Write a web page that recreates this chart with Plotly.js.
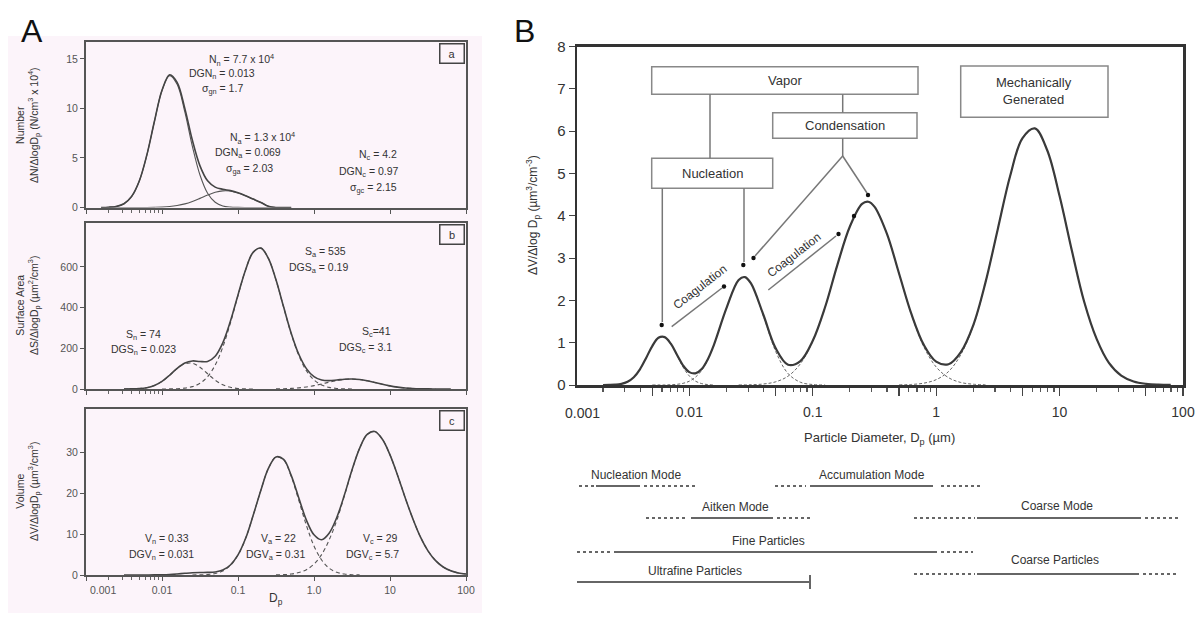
<!DOCTYPE html>
<html><head><meta charset="utf-8">
<script src="https://cdn.plot.ly/plotly-3.0.1.min.js"></script>
<style>html,body{margin:0;padding:0;background:#fff}#chart{width:1198px;height:617px}</style>
</head><body><div id="chart"></div>
<script>
// ---------- Panel A (a): number distribution ----------
const aD      = [0.00158,0.00200,0.00251,0.00316,0.00398,0.00501,0.00631,0.00794,0.0100,0.0126,0.0158,0.0200,0.0251,0.0316,0.0398,0.0501,0.0631,0.0794,0.100,0.126,0.158,0.200,0.251,0.316,0.398,0.501];
const aTotal  = [0.005,0.026,0.11,0.38,1.11,2.65,5.28,8.68,11.84,13.40,12.63,9.98,6.78,4.20,2.69,2.06,1.84,1.70,1.48,1.18,0.85,0.50,0.12,0,0,0];
const aNuc    = [0.005,0.026,0.11,0.38,1.11,2.65,5.27,8.66,11.80,13.31,12.43,9.62,6.17,3.28,1.44,0.53,0.16,0.04,0.008,0,0,0,0,0,0,0];
const aAit    = [0,0,0,0.0001,0.0005,0.002,0.006,0.016,0.04,0.094,0.195,0.363,0.61,0.92,1.25,1.53,1.68,1.66,1.47,1.18,0.85,0.50,0.12,0,0,0];

// ---------- Panel A (b): surface area distribution ----------
const bD      = [0.00316,0.00398,0.00501,0.00631,0.00794,0.0100,0.0126,0.0158,0.0200,0.0251,0.0316,0.0398,0.0501,0.0631,0.0794,0.100,0.126,0.158,0.200,0.251,0.316,0.398,0.501,0.631,0.794,1.00,1.26,1.58,2.00,2.51,3.16,3.98,5.01,6.31,7.94,10.0,12.6,15.8,20.0,25.1,31.6,39.8,50.1,63.1];
const bTotal  = [0.1,0.5,2.1,6.5,17.2,37.4,67.6,101.5,127.9,137.9,135.0,135.7,161.4,227,333,462.5,586.6,671.6,692.4,642.3,536.6,403.9,274.6,170.6,100.3,60.8,44.1,41.2,44.3,48.1,49.3,46.4,40.2,31.8,23.0,15.2,9.2,5.0,2.5,1.2,0.5,0.2,0.1,0];
const bNucD   = [0.00316,0.00398,0.00501,0.00631,0.00794,0.0100,0.0126,0.0158,0.0200,0.0251,0.0316,0.0398,0.0501,0.0631,0.0794,0.100,0.126,0.158];
const bNuc    = [0.1,0.5,2.1,6.5,17.2,37.3,67.1,100,123.5,126.3,107,75.1,43.6,21.0,8.4,2.8,0.76,0.15];
const bAccD   = [0.0100,0.0126,0.0158,0.0200,0.0251,0.0316,0.0398,0.0501,0.0631,0.0794,0.100,0.126,0.158,0.200,0.251,0.316,0.398,0.501,0.631,0.794,1.00,1.26,1.58,2.00,2.51,3.16];
const bAcc    = [0.1,0.45,1.5,4.4,11.6,28,60.6,117.8,206,324.6,459.7,585.8,671.4,692.4,642.3,536,402.5,271.7,165,90.2,44.3,19.6,7.8,2.8,0.9,0.25];
const bCoaD   = [0.316,0.398,0.501,0.631,0.794,1.00,1.26,1.58,2.00,2.51,3.16,3.98,5.01,6.31,7.94,10.0,12.6,15.8,20.0,25.1,31.6,39.8];
const bCoa    = [0.58,1.35,2.9,5.6,10.1,16.5,24.5,33.4,41.5,47.2,49,46.4,40.2,31.8,23,15.2,9.2,5.0,2.5,1.2,0.5,0.2];

// ---------- Panel A (c): volume distribution ----------
const cD      = [0.00316,0.00398,0.00501,0.00631,0.00794,0.0100,0.0126,0.0158,0.0200,0.0251,0.0316,0.0398,0.0501,0.0631,0.0794,0.100,0.126,0.158,0.200,0.251,0.316,0.398,0.501,0.631,0.794,1.00,1.26,1.58,2.00,2.51,3.16,3.98,5.01,6.31,7.94,10.0,12.6,15.8,20.0,25.1,31.6,39.8,50.1,63.1,79.4,100];
const cTotal  = [0,0,0,0.01,0.02,0.06,0.14,0.26,0.41,0.54,0.60,0.63,0.74,1.20,2.43,4.90,8.95,14.5,20.7,26.0,28.8,28.2,24.3,18.8,13.4,9.8,8.6,10.2,14.1,19.5,25.6,30.9,34.3,35.0,33.1,29.3,24.3,18.9,13.7,9.3,5.9,3.5,1.96,1.02,0.5,0.23];
const cAccD   = [0.0251,0.0316,0.0398,0.0501,0.0631,0.0794,0.100,0.126,0.158,0.200,0.251,0.316,0.398,0.501,0.631,0.794,1.00,1.26,1.58,2.00,2.51,3.16,3.98];
const cAcc    = [0.009,0.034,0.117,0.36,0.97,2.31,4.85,8.93,14.5,20.7,26.0,28.8,28.1,24.1,18.2,12.1,7.1,3.66,1.66,0.66,0.23,0.07,0.02];
const cCoaD   = [0.316,0.398,0.501,0.631,0.794,1.00,1.26,1.58,2.00,2.51,3.16,3.98,5.01,6.31,7.94,10.0,12.6,15.8,20.0,25.1,31.6,39.8,50.1,63.1,79.4,100];
const cCoa    = [0.03,0.09,0.24,0.59,1.30,2.66,4.98,8.52,13.4,19.3,25.5,30.9,34.3,35.0,33.1,29.3,24.3,18.9,13.7,9.3,5.9,3.5,1.96,1.02,0.5,0.23];

// ---------- Panel B: idealized volume distribution ----------
const BD      = [0.00200,0.00224,0.00251,0.00282,0.00316,0.00355,0.00398,0.00447,0.00501,0.00562,0.00631,0.00708,0.00794,0.00891,0.0100,0.0112,0.0126,0.0141,0.0158,0.0200,0.0251,0.0282,0.0316,0.0398,0.0501,0.0631,0.0794,0.100,0.126,0.158,0.200,0.251,0.282,0.316,0.398,0.501,0.631,0.794,1.00,1.26,1.58,2.00,2.51,3.16,3.98,5.01,6.31,7.94,10.0,12.6,15.8,20.0,25.1,31.6,39.8,50.1,63.1,79.4];
const BTotal  = [0.0004,0.0019,0.0076,0.026,0.076,0.183,0.37,0.64,0.92,1.115,1.132,0.976,0.716,0.46,0.304,0.276,0.378,0.605,0.944,1.817,2.482,2.551,2.402,1.66,0.867,0.48,0.567,1.045,1.843,2.828,3.745,4.279,4.33,4.216,3.583,2.63,1.673,0.949,0.552,0.491,0.772,1.417,2.425,3.689,4.945,5.837,6.065,5.547,4.465,3.165,1.974,1.084,0.524,0.223,0.084,0.028,0.008,0.002];
const B1D     = [0.00200,0.00224,0.00251,0.00282,0.00316,0.00355,0.00398,0.00447,0.00501,0.00562,0.00631,0.00708,0.00794,0.00891,0.0100,0.0112,0.0126,0.0141,0.0158];
const B1      = [0.0004,0.0019,0.0076,0.026,0.076,0.183,0.37,0.64,0.92,1.115,1.13,0.97,0.70,0.42,0.214,0.092,0.033,0.0099,0.0025];
const B2D     = [0.00501,0.00631,0.00708,0.00794,0.00891,0.0100,0.0112,0.0126,0.0141,0.0158,0.0200,0.0251,0.0282,0.0316,0.0398,0.0501,0.0631,0.0794,0.100,0.126];
const B2      = [0.0002,0.0021,0.0062,0.0164,0.040,0.0895,0.184,0.345,0.595,0.941,1.817,2.480,2.548,2.396,1.637,0.792,0.271,0.0656,0.0112,0.0014];
const B3D     = [0.0251,0.0316,0.0398,0.0501,0.0631,0.0794,0.100,0.126,0.158,0.200,0.251,0.282,0.316,0.398,0.501,0.631,0.794,1.00,1.26,1.58,2.00,2.51];
const B3      = [0.0015,0.0063,0.0234,0.0754,0.209,0.501,1.034,1.842,2.828,3.745,4.279,4.33,4.216,3.583,2.626,1.660,0.905,0.426,0.173,0.0604,0.0183,0.0047];
const B4D     = [0.501,0.631,0.794,1.00,1.26,1.58,2.00,2.51,3.16,3.98,5.01,6.31,7.94,10.0,12.6,15.8,20.0,25.1,31.6,39.8,50.1,63.1,79.4];
const B4      = [0.0036,0.0133,0.0435,0.126,0.318,0.712,1.399,2.42,3.688,4.945,5.837,6.065,5.547,4.465,3.165,1.974,1.084,0.524,0.223,0.0835,0.0275,0.008,0.002];

// tick labels
const decadeVals = [0.001,0.01,0.1,1,10,100];
const decadeTextA = ['','0.01','0.1','1.0','10','100'];   // "0.001" drawn offset, as in the reference
const minorA = [0.002,0.003,0.004,0.005,0.006,0.007,0.008,0.009];
const tickValsB = [0.005,0.01,0.05,0.1,0.5,1,5,10,50,100];
const tickTextB = ['','0.01','','0.1','','1','','10','','100'];
const minorB = [0.002,0.003,0.004,0.006,0.007,0.008,0.009,0.02,0.03,0.04,0.06,0.07,0.08,0.09,0.2,0.3,0.4,0.6,0.7,0.8,0.9,2,3,4,6,7,8,9,20,30,40,60,70,80,90];

// ---------- layout helpers ----------
const W = 1198, H = 617;
const fx = v => v / W, fy = v => 1 - v / H;
const FONT = 'Liberation Sans, Arial, sans-serif';
const lineA = {color:'#444', width:1.6, shape:'spline'};
const thinA = {color:'#555', width:1.1, shape:'spline'};
const dashA = {color:'#555', width:1.1, dash:'4px,3px', shape:'spline'};

function tr(x, y, xa, ya, line){ return {x:x, y:y, xaxis:xa, yaxis:ya, type:'scatter', mode:'lines', line:line, hoverinfo:'skip', showlegend:false}; }

const data = [
  tr(aD, aNuc, 'x', 'y', thinA),
  tr(aD, aAit, 'x', 'y', thinA),
  tr(aD, aTotal, 'x', 'y', lineA),
  tr(bNucD, bNuc, 'x2', 'y2', dashA),
  tr(bAccD, bAcc, 'x2', 'y2', dashA),
  tr(bCoaD, bCoa, 'x2', 'y2', dashA),
  tr(bD, bTotal, 'x2', 'y2', lineA),
  tr(cAccD, cAcc, 'x3', 'y3', dashA),
  tr(cCoaD, cCoa, 'x3', 'y3', dashA),
  tr(cD, cTotal, 'x3', 'y3', lineA),
  tr(B1D, B1, 'x4', 'y4', {color:'#666', width:1, dash:'3px,2px', shape:'spline'}),
  tr(B2D, B2, 'x4', 'y4', {color:'#666', width:1, dash:'3px,2px', shape:'spline'}),
  tr(B3D, B3, 'x4', 'y4', {color:'#666', width:1, dash:'3px,2px', shape:'spline'}),
  tr(B4D, B4, 'x4', 'y4', {color:'#666', width:1, dash:'3px,2px', shape:'spline'}),
  tr(BD, BTotal, 'x4', 'y4', {color:'#3a3a3a', width:2.2, shape:'spline'})
];

function xA(anchor, top, bot, labels){
  return {type:'log', range:[-3,2], anchor:anchor, domain:[fx(86), fx(466)],
    showline:true, mirror:true, linecolor:'#555', linewidth:2, showgrid:false, zeroline:false,
    ticks:'outside', ticklen:4, tickcolor:'#555', tickwidth:1,
    tickvals:decadeVals, ticktext:decadeTextA, showticklabels:labels,
    tickfont:{family:FONT, size:10.5, color:'#555'},
    minor:{tickvals:minorA, ticks:'outside', ticklen:3, tickcolor:'#666'}};
}
function yA(anchor, top, bot, range, vals){
  return {anchor:anchor, domain:[fy(bot), fy(top)], range:range, tickvals:vals,
    showline:true, mirror:true, linecolor:'#555', linewidth:2, showgrid:false, zeroline:false,
    ticks:'outside', ticklen:4, tickcolor:'#555', tickfont:{family:FONT, size:10.5, color:'#555'}};
}

function T(x, y, text, size, extra){
  return Object.assign({xref:'paper', yref:'paper', x:fx(x), y:fy(y), text:text, showarrow:false,
    xanchor:'center', yanchor:'middle', font:{family:FONT, size:size||10.5, color:'#333'}}, extra||{});
}
function boxLab(x, y, t){ return T(x, y, t, 11, {width:23, height:18, bordercolor:'#444', borderwidth:1.5, borderpad:0, font:{family:FONT, size:11, color:'#333'}}); }

const annotations = [
  T(32, 31, 'A', 32, {font:{family:FONT, size:32, color:'#111'}}),
  T(524, 31, 'B', 32, {font:{family:FONT, size:32, color:'#111'}}),
  // axis titles A
  T(28, 125, 'Number<br>ΔN/ΔlogD<sub>p</sub> (N/cm<sup>3</sup> x 10<sup>4</sup>)', 10.5, {textangle:-90}),
  T(28, 306, 'Surface Area<br>ΔS/ΔlogD<sub>p</sub> (µm<sup>2</sup>/cm<sup>3</sup>)', 10.5, {textangle:-90}),
  T(28, 492, 'Volume<br>ΔV/ΔlogD<sub>p</sub> (µm<sup>3</sup>/cm<sup>3</sup>)', 10.5, {textangle:-90}),
  T(103, 590, '0.001', 10.5, {font:{family:FONT, size:10.5, color:'#555'}}),
  T(276, 599, 'D<sub>p</sub>', 12),
  boxLab(452, 53.5, 'a'), boxLab(452, 234, 'b'), boxLab(452, 420.5, 'c'),
  // a
  T(241, 60, 'N<sub>n</sub> = 7.7 x 10<sup>4</sup>'),
  T(222, 74, 'DGN<sub>n</sub> = 0.013'),
  T(222, 89, 'σ<sub>gn</sub> = 1.7'),
  T(262, 138, 'N<sub>a</sub> = 1.3 x 10<sup>4</sup>'),
  T(248, 153, 'DGN<sub>a</sub> = 0.069'),
  T(249, 169, 'σ<sub>ga</sub> = 2.03'),
  T(378, 155, 'N<sub>c</sub> = 4.2'),
  T(369, 172, 'DGN<sub>c</sub> = 0.97'),
  T(374, 188, 'σ<sub>gc</sub> = 2.15'),
  // b
  T(325, 252, 'S<sub>a</sub> = 535'),
  T(318, 268, 'DGS<sub>a</sub> = 0.19'),
  T(143, 335, 'S<sub>n</sub> = 74'),
  T(143, 350, 'DGS<sub>n</sub> = 0.023'),
  T(376, 332, 'S<sub>c</sub>=41'),
  T(365, 348, 'DGS<sub>c</sub> = 3.1'),
  // c
  T(167, 539, 'V<sub>n</sub> = 0.33'),
  T(162, 555, 'DGV<sub>n</sub> = 0.031'),
  T(278, 539, 'V<sub>a</sub> = 22'),
  T(275, 555, 'DGV<sub>a</sub> = 0.31'),
  T(380, 539, 'V<sub>c</sub> = 29'),
  T(372, 555, 'DGV<sub>c</sub> = 5.7'),
  // B axis titles and labels
  T(533, 215, 'ΔV/Δlog D<sub>p</sub> (µm<sup>3</sup>/cm<sup>-3</sup>)', 12, {textangle:-90}),
  T(880, 439, 'Particle Diameter, D<sub>p</sub> (µm)', 13),
  T(582, 413, '0.001', 14),
  // B boxes text
  T(785, 80, 'Vapor', 13),
  T(845, 125.5, 'Condensation', 13),
  T(712, 173, 'Nucleation', 13),
  T(1034, 91, 'Mechanically<br>Generated', 13),
  T(700, 287, 'Coagulation', 12, {textangle:-38}),
  T(794, 255, 'Coagulation', 12, {textangle:-38}),
  // mode bars text
  T(636, 475, 'Nucleation Mode', 12),
  T(872, 475, 'Accumulation Mode', 12),
  T(735, 507, 'Aitken Mode', 12),
  T(1057, 506, 'Coarse Mode', 12),
  T(768, 541, 'Fine Particles', 12),
  T(1055, 560, 'Coarse Particles', 12),
  T(695, 571, 'Ultrafine Particles', 12)
];

function L(x0, y0, x1, y1, color, width, dash){
  return {type:'line', xref:'paper', yref:'paper', x0:fx(x0), y0:fy(y0), x1:fx(x1), y1:fy(y1),
    line:{color:color||'#777', width:width||1.5, dash:dash||'solid'}};
}
function R(x0, y0, x1, y1){
  return {type:'rect', xref:'paper', yref:'paper', x0:fx(x0), y0:fy(y1), x1:fx(x1), y1:fy(y0),
    line:{color:'#888', width:1.5}, fillcolor:'rgba(0,0,0,0)'};
}
function D(x, y){
  const r = 2.2;
  return {type:'circle', xref:'paper', yref:'paper', x0:fx(x-r), x1:fx(x+r), y0:fy(y+r), y1:fy(y-r),
    fillcolor:'#111', line:{color:'#111', width:0}};
}
function bar(y, segs){
  return segs.map(s => L(s[0], y, s[1], y, '#666', 2, s[2]==='d' ? '3px,3px' : 'solid'));
}

let shapes = [
  {type:'rect', xref:'paper', yref:'paper', x0:fx(8), x1:fx(482), y0:fy(613), y1:fy(36), fillcolor:'#fcf4fa', line:{width:0}, layer:'below'},
  R(651.7, 66.7, 918, 94.3), R(772.7, 112.7, 917, 138.3), R(651.7, 158.3, 772.7, 188.3), R(960.7, 66, 1108, 117.3),
  L(710, 94.3, 710, 158.3), L(842.7, 94.3, 842.7, 112.7), L(842.7, 138.3, 842.7, 156),
  L(842.7, 156, 755, 256), L(842.7, 156, 867, 193),
  L(662.3, 188.3, 662.3, 322), L(744, 188.3, 744, 262),
  L(671.7, 326.7, 722, 288), L(768.3, 290, 836, 236),
  D(661.7, 325), D(743.3, 265), D(753.5, 258), D(868, 195), D(724, 286.5), D(838.5, 234), D(854, 216)
];
shapes = shapes.concat(
  bar(486, [[579,594,'d'],[596,640,'s'],[644,695,'d']]),
  bar(486, [[775,806,'d'],[810,933,'s'],[941,981,'d']]),
  bar(518, [[646,688,'d'],[691,773,'s'],[777,811,'d']]),
  bar(518, [[914,975,'d'],[977,1141,'s'],[1145,1179,'d']]),
  bar(552, [[577,611,'d'],[614,937,'s'],[941,973,'d']]),
  bar(574, [[914,975,'d'],[977,1139,'s'],[1143,1179,'d']]),
  bar(582, [[577,810,'s']]),
  [L(810, 575, 810, 589, '#666', 2)]
);

const layout = {
  width:W, height:H, autosize:false, margin:{l:0, r:0, t:0, b:0},
  paper_bgcolor:'#ffffff', plot_bgcolor:'rgba(0,0,0,0)', showlegend:false,
  font:{family:FONT, color:'#333'},
  xaxis: xA('y', 42, 207.5, false),
  yaxis: yA('x', 42, 207.5, [0,16.7], [0,5,10,15]),
  xaxis2: xA('y2', 223, 389, false),
  yaxis2: yA('x2', 223, 389, [0,816], [0,200,400,600]),
  xaxis3: xA('y3', 409, 575, true),
  yaxis3: yA('x3', 409, 575, [0,40.5], [0,10,20,30]),
  xaxis4: {type:'log', range:[-2.91,2], anchor:'y4', domain:[fx(577), fx(1183)],
    showline:true, mirror:true, linecolor:'#333', linewidth:2.5, showgrid:false, zeroline:false,
    ticks:'outside', ticklen:8, tickcolor:'#444', tickwidth:1.2, tickvals:tickValsB, ticktext:tickTextB,
    ticklabelstandoff:5, tickfont:{family:FONT, size:14, color:'#333'},
    minor:{tickvals:minorB, ticks:'outside', ticklen:4, tickcolor:'#555'}},
  yaxis4: {anchor:'x4', domain:[fy(385), fy(46.5)], range:[0,8], dtick:1,
    showline:true, mirror:true, linecolor:'#333', linewidth:2.5, showgrid:false, zeroline:false,
    ticks:'outside', ticklen:6, tickcolor:'#444', tickfont:{family:FONT, size:15, color:'#333'}},
  annotations: annotations,
  shapes: shapes
};

Plotly.newPlot('chart', data, layout, {staticPlot:true, displayModeBar:false});
</script>
</body></html>
